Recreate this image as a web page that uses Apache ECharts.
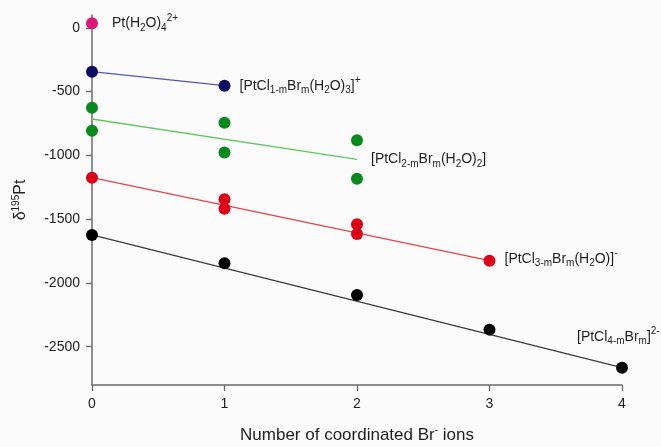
<!DOCTYPE html>
<html>
<head>
<meta charset="utf-8">
<script src="https://cdn.jsdelivr.net/npm/echarts@6/dist/echarts.min.js"></script>
<style>
  html, body { margin: 0; padding: 0; background: #fbfbfb; }
  #chart { width: 661px; height: 447px; }
</style>
</head>
<body>
<div id="chart"></div>
<script>
// Number of coordinated Br- ions (x ticks) and shift ticks (y)
const brIons = [0, 1, 2, 3, 4];
const shiftTicks = [0, -500, -1000, -1500, -2000, -2500];

// δ195Pt shifts (ppm) for each family of species
const aquaX = [0];
const aquaY = [35];
const monoX = [0, 1];
const monoY = [-344, -454];
const diX = [0, 0, 1, 1, 2, 2];
const diY = [-627, -807, -744, -978, -882, -1183];
const triX = [0, 1, 1, 2, 2, 3];
const triY = [-1175, -1345, -1418, -1540, -1616, -1826];
const tetraX = [0, 1, 2, 3, 4];
const tetraY = [-1624, -1846, -2094, -2366, -2664];

// Trend line end points
const monoFitX = [0, 1];
const monoFitY = [-344, -454];
const diFitX = [0, 2];
const diFitY = [-715, -1032];
const triFitX = [0, 3];
const triFitY = [-1175, -1826];
const tetraFitX = [0, 4];
const tetraFitY = [-1624, -2664];

const FONT = '"Liberation Sans", Arial, Helvetica, sans-serif';
const TXT = '#1e1e1e';
const pairs = (xs, ys) => xs.map((x, i) => [x, ys[i]]);

const rich = {
  b:  { fontSize: 14, color: TXT, fontFamily: FONT },
  sb: { fontSize: 10, color: TXT, fontFamily: FONT, padding: [9, 0, 0, 0] },
  sp: { fontSize: 10, color: TXT, fontFamily: FONT, padding: [0, 0, 10, 0] }
};

const labels = {
  aqua: '{b|Pt(H}{sb|2}{b|O)}{sb|4}{sp|2+}',
  mono: '{b|[PtCl}{sb|1-m}{b|Br}{sb|m}{b|(H}{sb|2}{b|O)}{sb|3}{b|]}{sp|+}',
  di: '{b|[PtCl}{sb|2-m}{b|Br}{sb|m}{b|(H}{sb|2}{b|O)}{sb|2}{b|]}',
  tri: '{b|[PtCl}{sb|3-m}{b|Br}{sb|m}{b|(H}{sb|2}{b|O)]}{sp|-}',
  tetra: '{b|[PtCl}{sb|4-m}{b|Br}{sb|m}{b|]}{sp|2-}'
};

function trend(xs, ys, color, text, endLabelOpts) {
  return {
    type: 'line',
    data: pairs(xs, ys),
    symbol: 'none',
    showSymbol: false,
    silent: true,
    z: 1,
    lineStyle: { color: color, width: 1.3 },
    endLabel: Object.assign({
      show: true,
      formatter: () => text,
      rich: rich
    }, endLabelOpts)
  };
}

function dots(xs, ys, color, label) {
  const s = {
    type: 'scatter',
    data: pairs(xs, ys),
    symbol: 'circle',
    symbolSize: 12,
    clip: false,
    z: 3,
    itemStyle: { color: color, opacity: 1 }
  };
  if (label) s.label = label;
  return s;
}

const chart = echarts.init(document.getElementById('chart'), null, { renderer: 'canvas' });

chart.setOption({
  animation: false,
  backgroundColor: '#fbfbfb',
  grid: { left: 92, right: 39, top: 15, bottom: 62, outerBoundsMode: 'none', containLabel: false },
  xAxis: {
    type: 'value',
    min: brIons[0],
    max: brIons[brIons.length - 1],
    interval: 1,
    name: '{b|Number of coordinated Br}{sp|-}{b| ions}',
    nameLocation: 'middle',
    nameGap: 40,
    nameTextStyle: {
      rich: {
        b: { fontSize: 17, color: TXT, fontFamily: FONT },
        sp: { fontSize: 10, color: TXT, fontFamily: FONT, padding: [0, 0, 10, 0] }
      }
    },
    axisLine: { show: true, onZero: false, lineStyle: { color: '#6a6a6a', width: 1.5 } },
    axisTick: { show: true, length: 6, lineStyle: { color: '#6a6a6a', width: 1.3 } },
    axisLabel: {
      customValues: brIons,
      fontSize: 14, color: TXT, fontFamily: FONT, margin: 12
    },
    splitLine: { show: false }
  },
  yAxis: {
    type: 'value',
    min: -2800,
    max: 100,
    name: '{b|δ}{sp|195}{b|Pt}',
    nameLocation: 'middle',
    nameRotate: 90,
    nameGap: 62,
    nameTextStyle: {
      rich: {
        b: { fontSize: 16, color: TXT, fontFamily: FONT },
        sp: { fontSize: 10, color: TXT, fontFamily: FONT, padding: [0, 0, 9, 0] }
      }
    },
    axisLine: { show: true, onZero: false, lineStyle: { color: '#6a6a6a', width: 1.5 } },
    axisTick: { show: true, length: 6, customValues: shiftTicks, lineStyle: { color: '#6a6a6a', width: 1.3 } },
    axisLabel: {
      customValues: shiftTicks,
      formatter: (v) => String(v),
      fontSize: 14, color: TXT, fontFamily: FONT, margin: 12
    },
    splitLine: { show: false }
  },
  series: [
    trend(monoFitX, monoFitY, '#5258b4', labels.mono, { distance: 15, offset: [0, 0] }),
    trend(diFitX, diFitY, '#62c862', labels.di, { distance: 14, offset: [0, 0] }),
    trend(triFitX, triFitY, '#e64448', labels.tri, { distance: 15, offset: [0, -2] }),
    trend(tetraFitX, tetraFitY, '#3c3c3c', labels.tetra, { distance: 0, offset: [-45, -31] }),
    dots(aquaX, aquaY, '#e0157a', {
      show: true,
      position: 'right',
      distance: 14,
      offset: [0, 0],
      formatter: () => labels.aqua,
      rich: rich
    }),
    dots(monoX, monoY, '#0c0c60'),
    dots(diX, diY, '#078a1c'),
    dots(triX, triY, '#de0016'),
    dots(tetraX, tetraY, '#000000')
  ]
});
</script>
</body>
</html>
